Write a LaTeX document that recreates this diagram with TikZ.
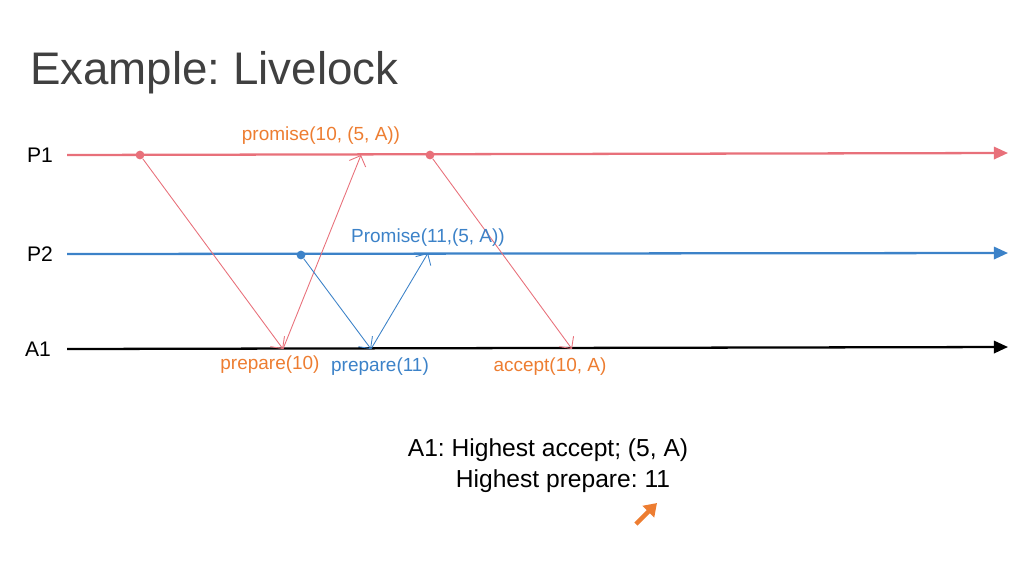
\documentclass[tikz,border=0pt]{standalone}
\usepackage{fontspec}
\setmainfont{Liberation Sans}
\usetikzlibrary{arrows.meta}
\definecolor{pred}{RGB}{232,112,122}
\definecolor{pblue}{RGB}{60,130,200}
\definecolor{porange}{RGB}{237,125,49}
\definecolor{ptitle}{RGB}{64,64,64}
\frenchspacing

\begin{document}
\begin{tikzpicture}[x=0.02cm,y=-0.02cm,
    timeline/.style={line width=1.3pt,-{Triangle[length=8pt,width=7pt]}},
    msg/.style={line width=0.5pt,-{Straight Barb[length=5pt]}},
    event/.style={circle,fill,inner sep=0pt,minimum size=5pt},
    msglabel/.style={font=\fontsize{10.8}{12}\selectfont},
    proclabel/.style={font=\fontsize{12}{14}\selectfont}]
                \useasboundingbox (0,0) rectangle (1024,576);
                \node[anchor=west,text=ptitle,font=\fontsize{26}{30}\selectfont] (title) at (24,73) {Example: Livelock};
                \node[proclabel] (P1) at (40,155) {P1};
                \node[proclabel] (P2) at (40,254) {P2};
                \node[proclabel] (A1) at (38,349) {A1};
                \coordinate (p1end) at (1008,153);
                \coordinate (p2end) at (1008,253);
                \coordinate (a1end) at (1008,347);
                \draw[timeline,pred] (P1.east) ++(8,0) -- (p1end);
                \draw[timeline,pblue] (P2.east) ++(8,0) -- (p2end);
                \draw[timeline,black] (A1.east) ++(10,0) -- (a1end);
                \node[event,pred] (s1) at (140,155) {};
                \node[event,pred] (s2) at (430,155) {};
                \node[event,pblue] (t1) at (301,255) {};
                \coordinate (r1) at (283,349);
                \coordinate (r2) at (371,349);
                \coordinate (r3) at (572,349);
                \coordinate (q1) at (361,155);
                \coordinate (q2) at (428,253);
                \draw[msg,pred] (s1) -- (r1);
                \draw[msg,pred] (r1) -- (q1);
                \draw[msg,pred] (s2) -- (r3);
                \draw[msg,pblue] (t1) -- (r2);
                \draw[msg,pblue] (r2) -- (q2);
                \node[msglabel,text=porange] (promA) at (321,136) {promise(10, (5, A))};
                \node[msglabel,text=pblue] (promB) at (428,238) {Promise(11,(5, A))};
                \node[msglabel,text=porange] (prepA) at (270,365) {prepare(10)};
                \node[msglabel,text=pblue] (prepB) at (380,367) {prepare(11)};
                \node[msglabel,text=porange] (acc) at (550,367) {accept(10, A)};
                \node[font=\fontsize{14}{16}\selectfont] (state1) at (548,450) {A1: Highest accept; (5, A)};
                \node[font=\fontsize{14}{16}\selectfont] (state2) at (563,481) {Highest prepare: 11};
                \coordinate (ptr) at (636,524);
                \draw[porange,line width=2.5pt,-{Triangle[length=7pt,width=9pt]}] (ptr) -- (657,503);
            \end{tikzpicture}
\end{document}
